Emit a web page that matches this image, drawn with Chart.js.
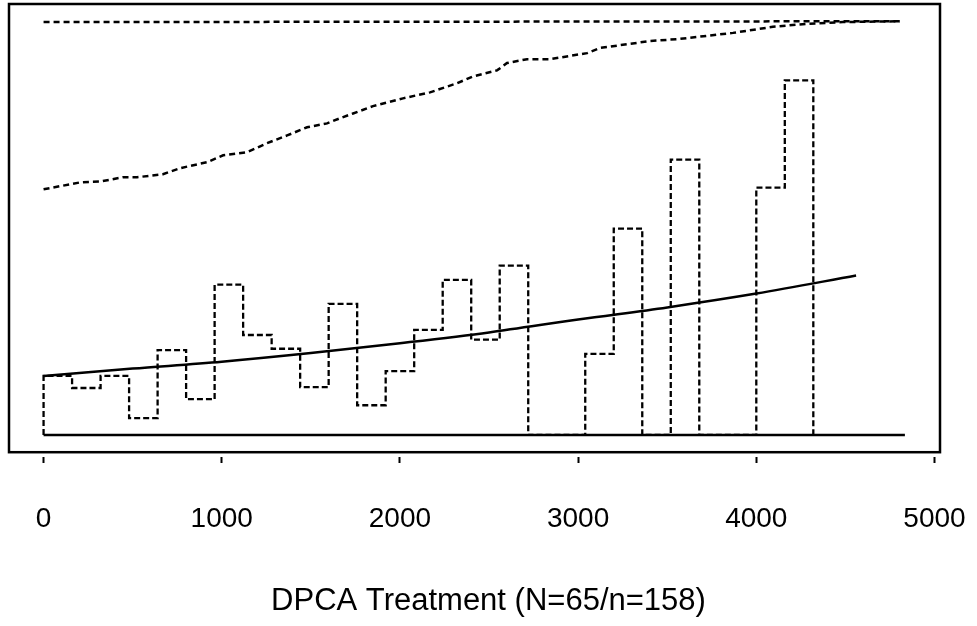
<!DOCTYPE html>
<html>
<head>
<meta charset="utf-8">
<script src="https://cdn.jsdelivr.net/npm/chart.js@4/dist/chart.umd.min.js"></script>
<style>
  html, body { margin: 0; padding: 0; background: #fff; overflow: hidden; }
  #wrap { width: 977px; height: 626px; }
</style>
</head>
<body>
<div id="wrap"><canvas id="chart"></canvas></div>
<script>
// x axis ticks
const xTickValues = [0, 1000, 2000, 3000, 4000, 5000];

// histogram: bin width and bar heights
const binWidth = 160;
const binHeights = [
  0.137, 0.109, 0.137, 0.039, 0.197, 0.083, 0.349, 0.232, 0.200, 0.111,
  0.304, 0.069, 0.148, 0.244, 0.360, 0.221, 0.393, 0, 0, 0.188,
  0.479, 0, 0.639, 0, 0, 0.574, 0.823
];

// smooth fitted curve
const fitX = [0, 500, 1000, 1500, 2000, 2500, 3000, 3500, 4000, 4560];
const fitY = [0.137, 0.154, 0.170, 0.190, 0.213, 0.238, 0.268, 0.296, 0.328, 0.370];

// rising dashed curve
const cumX = [0, 205, 317, 446, 525, 670, 766, 918, 1008, 1142, 1254, 1367, 1479, 1591,
  1664, 1737, 1849, 2017, 2169, 2320, 2410, 2545, 2601, 2713, 2842, 3050, 3123, 3403,
  3572, 3869, 4093, 4284, 4486, 4806];
const cumY = [0.570, 0.586, 0.588, 0.598, 0.598, 0.605, 0.619, 0.633, 0.649, 0.656, 0.677,
  0.695, 0.714, 0.723, 0.735, 0.746, 0.763, 0.781, 0.795, 0.816, 0.832, 0.846, 0.863,
  0.872, 0.872, 0.886, 0.898, 0.914, 0.919, 0.933, 0.947, 0.954, 0.958, 0.960];

// top flat dashed line and baseline
const topLineX = [0, 4806];
const topLineY = [0.958, 0.960];
const baseLineX = [0, 4834];
const baseLineY = [0, 0];

const xTitle = 'DPCA Treatment (N=65/n=158)';

document.addEventListener('DOMContentLoaded', function() {

    // histogram as a stepped line
    const histPoints = [{ x: 0, y: 0 }];
    binHeights.forEach((h, i) => histPoints.push({ x: i * binWidth, y: h }));
    histPoints.push({ x: binHeights.length * binWidth, y: 0 });

    const pairs = (xs, ys) => xs.map((x, i) => ({ x: x, y: ys[i] }));

    // frame round the plot area
    const framePlugin = {
        id: 'frame',
        afterDraw(chart) {
            const a = chart.chartArea;
            const c = chart.ctx;
            c.save();
            c.strokeStyle = '#000';
            c.lineWidth = 2.5;
            c.strokeRect(a.left, a.top, a.right - a.left, a.bottom - a.top);
            c.restore();
        }
    };

    // invisible side axes, only used to keep the margins
    const hiddenSide = (w) => ({
        type: 'linear',
        display: true,
        grid: { display: false },
        border: { display: false },
        ticks: { display: false },
        afterFit: (axis) => { axis.width = w; },
    });

    const ctx = document.getElementById('chart').getContext('2d');

    new Chart(ctx, {
        type: 'line',
        data: {
            datasets: [
                {
                    label: 'baseline',
                    data: pairs(baseLineX, baseLineY),
                    borderColor: '#000',
                    borderWidth: 2.5,
                    pointRadius: 0,
                },
                {
                    label: 'histogram',
                    data: histPoints,
                    stepped: 'before',
                    borderColor: '#000',
                    borderWidth: 2.3,
                    borderDash: [6, 3],
                    pointRadius: 0,
                },
                {
                    label: 'fit',
                    data: pairs(fitX, fitY),
                    borderColor: '#000',
                    borderWidth: 2.5,
                    cubicInterpolationMode: 'monotone',
                    pointRadius: 0,
                },
                {
                    label: 'cumulative',
                    data: pairs(cumX, cumY),
                    borderColor: '#000',
                    borderWidth: 2.5,
                    borderDash: [6, 4],
                    pointRadius: 0,
                },
                {
                    label: 'top',
                    data: pairs(topLineX, topLineY),
                    borderColor: '#000',
                    borderWidth: 2.5,
                    borderDash: [6, 4],
                    pointRadius: 0,
                },
            ],
        },
        options: {
            responsive: true,
            maintainAspectRatio: false,
            animation: false,
            layout: {
                padding: { left: 0, right: 0, top: 4, bottom: 0 },
            },
            plugins: {
                legend: { display: false },
                tooltip: { enabled: false },
                title: {
                    display: true,
                    position: 'bottom',
                    text: xTitle,
                    color: '#000',
                    padding: { top: 45, bottom: 6 },
                    font: { size: 31, weight: 'normal', family: 'Liberation Sans, Arial, sans-serif' },
                },
            },
            scales: {
                x: {
                    type: 'linear',
                    min: -194,
                    max: 5031,
                    afterBuildTicks: (axis) => {
                        axis.ticks = xTickValues.map((v) => ({ value: v }));
                    },
                    border: { display: false },
                    grid: {
                        drawOnChartArea: false,
                        tickLength: 48,
                        tickColor: '#000',
                        tickWidth: 2,
                        tickBorderDash: [0, 5, 6, 100],
                    },
                    ticks: {
                        color: '#000',
                        padding: 2,
                        maxRotation: 0,
                        callback: (value) => String(value),
                        font: { size: 28, family: 'Liberation Sans, Arial, sans-serif' },
                    },
                },
                y: Object.assign(hiddenSide(9), {
                    position: 'left',
                    min: -0.04,
                    max: 1.0,
                }),
                yRight: Object.assign(hiddenSide(37), {
                    position: 'right',
                }),
            },
        },
        plugins: [framePlugin],
    });
});
</script>
</body>
</html>
